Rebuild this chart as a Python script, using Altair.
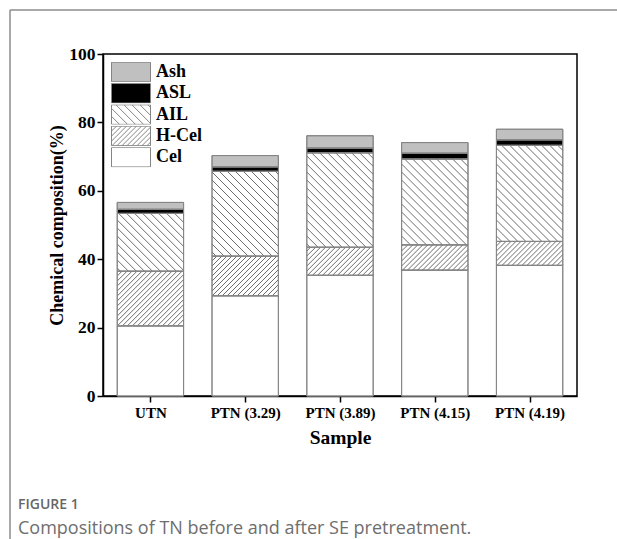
import json
import altair as alt
import pandas as pd

# Sample names and the chemical composition (%) of each fraction
SAMPLES = ["UTN", "PTN (3.29)", "PTN (3.89)", "PTN (4.15)", "PTN (4.19)"]
CEL = [20.5, 29.3, 35.3, 36.8, 38.2]
HCEL = [16.0, 11.6, 8.2, 7.4, 7.0]
AIL = [16.9, 24.8, 27.6, 25.1, 28.1]
ASL = [1.2, 1.3, 1.4, 1.7, 1.6]
ASH = [2.0, 3.3, 3.6, 3.1, 3.1]

STACK_ORDER = ["Cel", "H-Cel", "AIL", "ASL", "Ash"]   # bottom to top
LEGEND_ORDER = ["Ash", "ASL", "AIL", "H-Cel", "Cel"]
FILLS = {"Ash": "#c0c0c0", "ASL": "#000000", "AIL": "#ffffff",
         "H-Cel": "#ffffff", "Cel": "#ffffff"}
HATCH = {"AIL": ("back", 8.0), "H-Cel": ("fwd", 5.0)}   # direction, spacing in px

FIG_LABEL = "FIGURE 1"
FIG_CAPTION = "Compositions of TN before and after SE pretreatment."

# plot geometry (pixels)
W, H = 474, 342
X_DOMAIN = [-0.5, len(SAMPLES) - 0.5]
Y_DOMAIN = [0, 100]
SX = W / (X_DOMAIN[1] - X_DOMAIN[0])
SY = H / (Y_DOMAIN[1] - Y_DOMAIN[0])
HALF = 0.35  # half bar width in category units

SERIF = "Liberation Serif"
SANS = "Open Sans"
HATCH_COLOR = "#5c5c5c"
EDGE_COLOR = "#858585"

# stacked segments
rows = []
for i, name in enumerate(SAMPLES):
    base = 0.0
    for comp, vals in zip(STACK_ORDER, [CEL, HCEL, AIL, ASL, ASH]):
        v = vals[i]
        rows.append({"sample": name, "idx": i, "component": comp, "value": v,
                     "x0": i - HALF, "x1": i + HALF, "y0": base, "y1": base + v})
        base += v
seg = pd.DataFrame(rows)


def hatch_lines(x0, x1, y0, y1, direction, step):
    """Diagonal 45-degree lines clipped to one stacked segment."""
    w = (x1 - x0) * SX
    b, t = y0 * SY, y1 * SY
    out = []
    k = int((b - w) // step) - 1
    while k * step <= t + w + step:
        c = k * step
        if direction == "fwd":          # y = x + c
            xa, xb = max(0.0, b - c), min(w, t - c)
            if xb - xa > 0.3:
                out.append((xa, xa + c, xb, xb + c))
        else:                           # y = -x + c
            xa, xb = max(0.0, c - t), min(w, c - b)
            if xb - xa > 0.3:
                out.append((xa, c - xa, xb, c - xb))
        k += 1
    return [{"hx": x0 + a / SX, "hy": bb / SY, "hx2": x0 + cc / SX, "hy2": d / SY}
            for a, bb, cc, d in out]


hatch_rows = []
for r in rows:
    if r["component"] in HATCH:
        d, s = HATCH[r["component"]]
        hatch_rows += hatch_lines(r["x0"], r["x1"], r["y0"], r["y1"], d, s)
hatch_df = pd.DataFrame(hatch_rows)


def legend_path(direction, step_px, half_h_px=9.75):
    """Box (2 x 1 units) with diagonal hatching for a legend swatch."""
    s = step_px / half_h_px / 2.0
    parts = ["M-1,-0.5H1V0.5H-1Z"]
    c = -1.5
    while c <= 1.5 + 1e-9:
        xa, xb = max(-1.0, c - 0.5), min(1.0, c + 0.5)
        if xb - xa > 0.02:
            if direction == "back":
                ya, yb = xa - c, xb - c
            else:
                ya, yb = c - xa, c - xb
            parts.append(f"M{xa:.3f},{ya:.3f}L{xb:.3f},{yb:.3f}")
        c += s
    return "".join(parts)


box = "M-1,-0.5H1V0.5H-1Z"
shape_expr = (
    f"datum.value === 'AIL' ? '{legend_path('back', 8.0)}' : "
    f"datum.value === 'H-Cel' ? '{legend_path('fwd', 5.0)}' : '{box}'"
)

x_scale = alt.Scale(domain=X_DOMAIN, nice=False, zero=False)
y_scale = alt.Scale(domain=Y_DOMAIN, nice=False)

label_expr = f"{json.dumps(SAMPLES)}[datum.value]"

x_axis = alt.Axis(values=list(range(len(SAMPLES))), labelExpr=label_expr, title="Sample",
                  grid=False, tickSize=6, tickWidth=1.5, tickColor="#000",
                  domainColor="#000", domainWidth=1.5,
                  labelFont=SERIF, labelFontSize=15, labelFontWeight="bold",
                  labelColor="#000", labelPadding=3,
                  titleFont=SERIF, titleFontSize=19.5, titleFontWeight="bold",
                  titleColor="#000", titlePadding=8)
y_axis = alt.Axis(values=[0, 20, 40, 60, 80, 100], title="Chemical composition(%)",
                  grid=False, tickSize=6, tickWidth=1.5, tickColor="#000",
                  domainColor="#000", domainWidth=1.5,
                  labelFont=SERIF, labelFontSize=17.5, labelFontWeight="bold",
                  labelColor="#000", labelPadding=2,
                  titleFont=SERIF, titleFontSize=18, titleFontWeight="bold",
                  titleColor="#000", titlePadding=2)

legend = alt.Legend(
    title=None, orient="top-left", offset=8, padding=0,
    symbolSize=1521, clipHeight=20, rowPadding=1.3, labelOffset=5,
    symbolType=alt.ExprRef(expr=shape_expr),
    symbolStrokeColor=EDGE_COLOR, symbolStrokeWidth=1, symbolOpacity=1,
    labelFont=SERIF, labelFontSize=18, labelFontWeight="bold", labelColor="#000",
)

bars = alt.Chart(seg).mark_rect(stroke=EDGE_COLOR, strokeWidth=1).encode(
    x=alt.X("x0:Q", scale=x_scale, axis=x_axis),
    x2="x1:Q",
    y=alt.Y("y0:Q", scale=y_scale, axis=y_axis),
    y2="y1:Q",
    fill=alt.Fill("component:N",
                  scale=alt.Scale(domain=LEGEND_ORDER,
                                  range=[FILLS[c] for c in LEGEND_ORDER]),
                  legend=legend),
)

hatch = alt.Chart(hatch_df).mark_rule(color=HATCH_COLOR, strokeWidth=0.9).encode(
    x=alt.X("hx:Q", scale=x_scale), x2="hx2:Q",
    y=alt.Y("hy:Q", scale=y_scale), y2="hy2:Q",
)

outline = alt.Chart(seg).mark_rect(fillOpacity=0, stroke=EDGE_COLOR, strokeWidth=1).encode(
    x=alt.X("x0:Q", scale=x_scale), x2="x1:Q",
    y=alt.Y("y0:Q", scale=y_scale), y2="y1:Q",
)

one = pd.DataFrame({"label": [FIG_LABEL], "caption": [FIG_CAPTION]})

border_top = alt.Chart(one).mark_rule(color="#8c8c8c", strokeWidth=1.5).encode(
    x=alt.value(-93), x2=alt.value(W + 40), y=alt.value(-44))
border_left = alt.Chart(one).mark_rule(color="#8c8c8c", strokeWidth=1.5).encode(
    x=alt.value(-93), y=alt.value(-44), y2=alt.value(H + 143))

fig_label = alt.Chart(one).mark_text(
    align="left", baseline="alphabetic", font=SANS, fontSize=14, fontWeight=600,
    color="#666666").encode(x=alt.value(-85), y=alt.value(455), text="label:N")
fig_caption = alt.Chart(one).mark_text(
    align="left", baseline="alphabetic", font=SANS, fontSize=18, color="#6e6e6e"
).encode(x=alt.value(-85), y=alt.value(480), text="caption:N")

chart = alt.layer(bars, hatch, outline, border_top, border_left, fig_label, fig_caption).properties(
    width=W, height=H,
    padding={"left": 103, "top": 54, "right": 40, "bottom": 143},
    autosize=alt.AutoSizeParams(type="none"),
    background="#ffffff",
).configure_view(stroke="#000000", strokeWidth=1.5)

chart.save("out.html", embed_options={"renderer": "svg", "actions": False})
